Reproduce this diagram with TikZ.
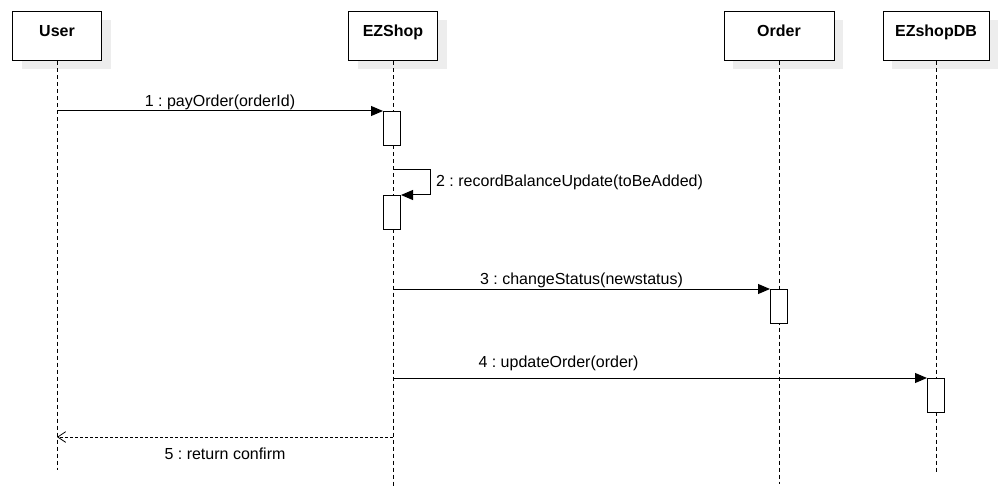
\documentclass[tikz,border=0pt]{standalone}
\usepackage{fontspec}
\setmainfont{Liberation Sans}
\usetikzlibrary{arrows.meta,shadows}
\frenchspacing
\tikzset{
  head/.style = {draw, fill=white, inner sep=0pt, text centered,
    minimum height=36.75pt, text height=9pt, text depth=9pt,
    font=\fontsize{12}{14}\selectfont\bfseries,
    drop shadow={shadow xshift=6.75pt, shadow yshift=-6.25pt,
      fill=black!7, opacity=1, draw=none}},
  life/.style = {line width=0.6pt, dash pattern=on 3pt off 2.25pt},
  act/.style = {draw, fill=white, anchor=north, inner sep=0pt,
    minimum width=12.75pt, minimum height=25.5pt},
  call/.style = {-{Triangle[length=9pt, width=7.5pt]}},
  reply/.style = {line width=0.6pt, dash pattern=on 2.25pt off 1.5pt,
    -{Straight Barb[length=6pt, width=8pt]}},
  msg/.style = {inner sep=0.75pt, font=\fontsize{12}{14}\selectfont}
}
\begin{document}
\begin{tikzpicture}[x=0.75pt, y=-0.75pt, line width=0.75pt]
    \useasboundingbox (0,0) rectangle (1000,499);
    \node [head, minimum width=66.75pt] (user) at (57,36.5) {User};
    \node [head, minimum width=66.75pt] (ezshop) at (393,36.5) {EZShop};
    \node [head, minimum width=82.5pt] (order) at (779,36.5) {Order};
    \node [head, minimum width=79.5pt] (db) at (936,36.5) {EZshopDB};
    \coordinate (userEnd) at (57,470);
    \coordinate (ezshopEnd) at (393,487);
    \coordinate (orderEnd) at (779,484);
    \coordinate (dbEnd) at (936,472);
    \draw [life] (user) -- (userEnd);
    \draw [life] (ezshop) -- (ezshopEnd);
    \draw [life] (order) -- (orderEnd);
    \draw [life] (db) -- (dbEnd);
    \node [act] (act1) at (392,111) {};
    \node [act] (act2) at (392,195) {};
    \node [act] (act3) at (779,289) {};
    \node [act] (act4) at (936,378) {};
    \coordinate (self) at (393,170);
    \coordinate (back) at (393,437);
    \draw [call] (user |- act1.north) -- (act1.north west)
        node [msg, midway, above] {1 : payOrder(orderId)};
    \draw [call] (self) -- ++(37,0) |- (act2.north east)
        node [msg, pos=0.25, right=3.5pt] {2 : recordBalanceUpdate(toBeAdded)};
    \draw [call] (ezshop |- act3.north) -- (act3.north west)
        node [msg, midway, above] {3 : changeStatus(newstatus)};
    \draw [call] (ezshop |- act4.north) -- (act4.north west)
        node [msg, pos=0.31, above=4pt] {4 : updateOrder(order)};
    \draw [reply] (back) -- (user |- back)
        node [msg, midway, below=7.5pt] {5 : return confirm};
\end{tikzpicture}
\end{document}
